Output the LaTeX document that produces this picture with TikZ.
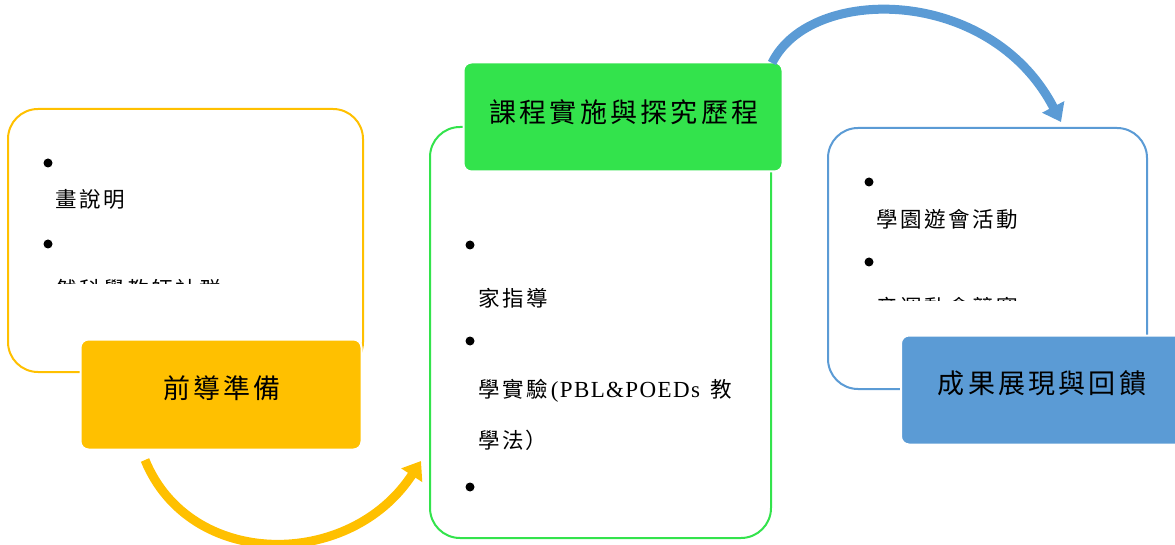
\documentclass[tikz,border=0pt]{standalone}
\usepackage{fontspec}
\usetikzlibrary{arrows.meta}
\newfontfamily\cjk[LetterSpace=12]{Noto Sans CJK TC}
\newfontfamily\latser[LetterSpace=6]{Liberation Serif}
\definecolor{cyel}{HTML}{FFC000}
\definecolor{cgrn}{HTML}{33E34C}
\definecolor{cblu}{HTML}{5B9BD5}
\tikzset{
  outbox/.style={draw=#1, line width=2pt, rounded corners=30pt, fill=white},
  titlebox/.style={fill=#1, draw=white, line width=2pt, rounded corners=8pt},
  titletext/.style={font=\cjk\fontsize{27}{32}\selectfont, text=black, inner sep=0pt},
  itemtext/.style={anchor=west, font=\cjk\fontsize{21.5}{26}\selectfont, inner sep=0pt},
  bullet/.style={circle, fill=black, inner sep=0pt, minimum size=9pt},
  flowarrow/.style={draw=#1, line width=9pt, -{Triangle[width=24pt,length=17pt]}}
}
\begin{document}
\begin{tikzpicture}[x=1pt,y=-1pt]
\useasboundingbox (0,0) rectangle (1175,545);
% outline boxes
\draw[outbox=cyel] (8,109) rectangle (363,372);
\draw[outbox=cgrn] (430,127) rectangle (771,538);
\draw[outbox=cblu] (828,128) rectangle (1147,389);
% yellow items
\node[bullet] (yb1) at (48,163) {};
\node[itemtext] (yt1) at (55,199) {畫說明};
\node[bullet] (yb2) at (48,244) {};
\begin{scope}
\clip (0,0) rectangle (1175,284);
\node[itemtext] (yt2) at (55,289) {然科學教師社群};
\end{scope}
% green items
\node[bullet] (gb1) at (470,245) {};
\node[itemtext] (gt1) at (478,298) {家指導};
\node[bullet] (gb2) at (470,341) {};
\node[itemtext] (gt2) at (478,391) {學實驗\hspace{3pt}{\latser\fontsize{23}{26}\selectfont (PBL\&POEDs }\hspace{3pt}教};
\node[itemtext] (gt3) at (478,440) {學法\hspace{2pt}）};
\node[bullet] (gb3) at (470,487) {};
% blue items
\node[bullet] (bb1) at (869,182) {};
\node[itemtext] (bt1) at (876,219) {學園遊會活動};
\node[bullet] (bb2) at (869,262) {};
\begin{scope}
\clip (0,0) rectangle (1175,301);
\node[itemtext] (bt2) at (876,307) {音運動會競賽};
\end{scope}
% title boxes
\node[titlebox=cyel, minimum width=281pt, minimum height=110pt] (prep) at (221,394.5) {};
\node[titletext] (prept) at (222,388) {前導準備};
\node[titlebox=cgrn, minimum width=319pt, minimum height=109pt] (impl) at (623,117) {};
\node[titletext] (implt) at (624,112) {課程實施與探究歷程};
\node[titlebox=cblu, minimum width=290pt, minimum height=109pt] (res) at (1046,390) {};
\node[titletext] (rest) at (1042,383) {成果展現與回饋};
% arrows
\coordinate (a1s) at (145,460);
\coordinate (a1e) at (421,461);
\draw[flowarrow=cyel] (a1s) .. controls (190,570) and (350,570) .. (a1e);
\coordinate (a2s) at (772,63);
\coordinate (a2e) at (1061,122);
\draw[flowarrow=cblu] (a2s) .. controls (810,-15) and (990,-15) .. (a2e);
\end{tikzpicture}
\end{document}
